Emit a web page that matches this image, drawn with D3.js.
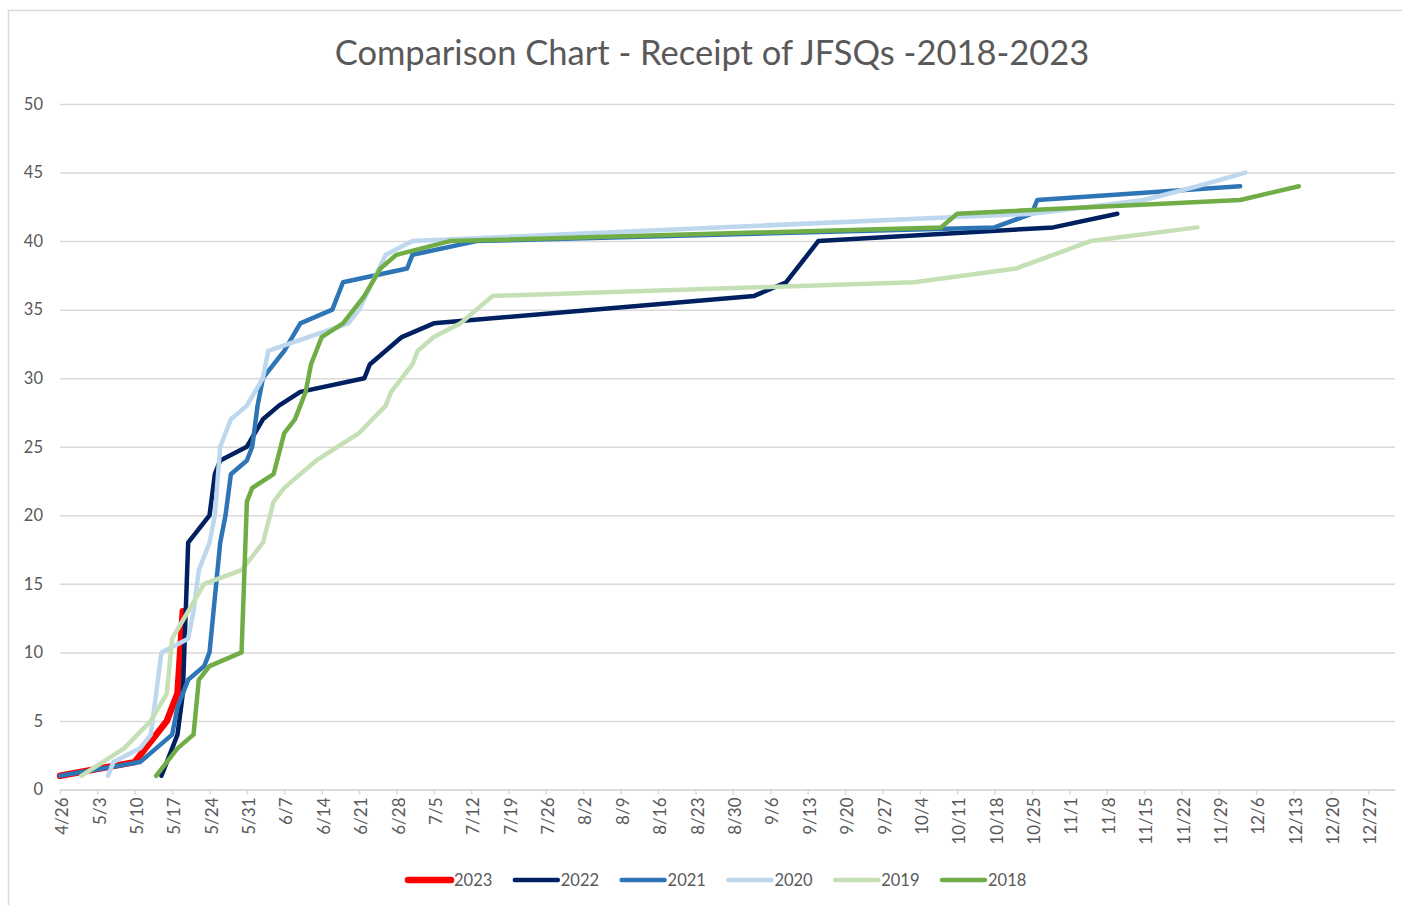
<!DOCTYPE html>
<html>
<head>
<meta charset="utf-8">
<title>Comparison Chart - Receipt of JFSQs -2018-2023</title>
<script src="https://cdn.jsdelivr.net/npm/d3@7"></script>
<style>
  body { margin: 0; background: #fff; }
  text { font-family: Lato, "Liberation Sans", sans-serif; fill: #595959; }
</style>
</head>
<body>
<div id="chart-area"></div>
<script>
/*
*    Comparison chart - cumulative JFSQs received, by season
*/

// data (month/day, cumulative count)
var dates2023 = ["4/26","5/10","5/12","5/14","5/16","5/18","5/19"];
var values2023 = [1, 2, 3, 4, 5, 7, 13];

var dates2022 = ["5/15","5/16","5/17","5/18","5/19","5/20","5/24","5/25","5/26","5/31","6/3","6/6","6/10","6/22","6/23","6/29","7/5","9/3","9/9","9/15","10/29","11/10"];
var values2022 = [1, 2, 3, 4, 7, 18, 20, 23, 24, 25, 27, 28, 29, 30, 31, 33, 34, 36, 37, 40, 41, 42];

var dates2021 = ["4/26","5/11","5/14","5/17","5/18","5/20","5/23","5/24","5/25","5/26","5/27","5/28","5/31","6/1","6/2","6/3","6/5","6/7","6/10","6/16","6/18","6/30","7/1","7/13","10/18","10/25","10/26","12/3"];
var values2021 = [1, 2, 3, 4, 6, 8, 9, 10, 14, 18, 20, 23, 24, 25, 28, 30, 31, 32, 34, 35, 37, 38, 39, 40, 41, 42, 43, 44];

var dates2020 = ["5/5","5/6","5/11","5/13","5/14","5/15","5/20","5/21","5/22","5/24","5/25","5/26","5/28","5/31","6/3","6/4","6/19","6/21","6/26","7/1","10/25","11/15","11/25","12/4"];
var values2020 = [1, 2, 3, 4, 7, 10, 11, 13, 16, 18, 20, 25, 27, 28, 30, 32, 34, 35, 39, 40, 42, 43, 44, 45];

var dates2019 = ["4/30","5/8","5/13","5/16","5/17","5/20","5/23","5/30","6/3","6/5","6/7","6/13","6/17","6/21","6/26","6/27","7/1","7/2","7/5","7/10","7/16","10/3","10/22","10/29","11/5","11/25"];
var values2019 = [1, 3, 5, 7, 11, 13, 15, 16, 18, 21, 22, 24, 25, 26, 28, 29, 31, 32, 33, 34, 36, 37, 38, 39, 40, 41];

var dates2018 = ["5/14","5/18","5/21","5/22","5/24","5/30","5/31","6/1","6/5","6/7","6/9","6/11","6/12","6/14","6/18","6/22","6/25","6/28","7/8","10/8","10/11","12/3","12/14"];
var values2018 = [1, 3, 4, 8, 9, 10, 21, 22, 23, 26, 27, 29, 31, 33, 34, 36, 38, 39, 40, 41, 42, 43, 44];

var seriesNames = ["2023", "2022", "2021", "2020", "2019", "2018"];
var seriesColors = ["#ff0000", "#002060", "#2e75b6", "#bdd7ee", "#c5e0b4", "#70ad47"];

var xTickLabels = ["4/26","5/3","5/10","5/17","5/24","5/31","6/7","6/14","6/21","6/28","7/5","7/12","7/19","7/26","8/2","8/9","8/16","8/23","8/30","9/6","9/13","9/20","9/27","10/4","10/11","10/18","10/25","11/1","11/8","11/15","11/22","11/29","12/6","12/13","12/20","12/27"];
var yTickValues = [0, 5, 10, 15, 20, 25, 30, 35, 40, 45, 50];

// all seasons plotted on one calendar
var parseDay = function(s) { return d3.timeParse("%m/%d/%Y")(s + "/2023"); };

var allDates = [dates2023, dates2022, dates2021, dates2020, dates2019, dates2018];
var allValues = [values2023, values2022, values2021, values2020, values2019, values2018];

var series = seriesNames.map(function(name, i) {
	return {
		name: name,
		color: seriesColors[i],
		points: allDates[i].map(function(d, j) {
			return { date: parseDay(d), value: allValues[i][j] };
		})
	};
});

var width = 1402, height = 905;

var svg = d3.select("#chart-area").append("svg")
	.attr("width", width)
	.attr("height", height);

svg.append("rect")
	.attr("width", width).attr("height", height)
	.attr("fill", "#fff");

// chart border
svg.append("rect")
	.attr("x", 8.5).attr("y", 10.5)
	.attr("width", 1420).attr("height", 920)
	.attr("fill", "none")
	.attr("stroke", "#d9d9d9")
	.attr("stroke-width", 1.5);

var x = d3.scaleTime()
	.domain([parseDay("4/26"), d3.timeParse("%m/%d/%Y")("1/1/2024")])
	.range([60, 1395]);

var y = d3.scaleLinear()
	.domain([0, 50])
	.range([789.5, 104]);

// gridlines + y labels
var yAxis = d3.axisLeft(y)
	.tickValues(yTickValues)
	.tickSize(-(1395 - 60))
	.tickPadding(17);

var gy = svg.append("g")
	.attr("transform", "translate(60,0)")
	.call(yAxis);
gy.select(".domain").remove();
gy.selectAll(".tick line").attr("stroke", "#d9d9d9").attr("stroke-width", 1.5);
gy.selectAll(".tick text")
	.style("font-size", "16.5px")
	.attr("fill", "#595959");

// x axis
var xAxis = d3.axisBottom(x)
	.tickValues(xTickLabels.map(parseDay))
	.tickFormat(d3.timeFormat("%-m/%-d"))
	.tickSize(5)
	.tickSizeOuter(0);

var gx = svg.append("g")
	.attr("transform", "translate(0,789.5)")
	.call(xAxis);
gx.select(".domain").attr("stroke", "#d9d9d9").attr("stroke-width", 1.5);
gx.selectAll(".tick line").attr("stroke", "#d9d9d9").attr("stroke-width", 1.5);
gx.selectAll(".tick text")
	.style("font-size", "17px")
	.attr("fill", "#595959")
	.attr("text-anchor", "end")
	.attr("transform", "rotate(-90)")
	.attr("x", -8)
	.attr("y", 0)
	.attr("dy", "0.45em");

// lines
var line = d3.line()
	.x(function(d) { return x(d.date); })
	.y(function(d) { return y(d.value); });

svg.append("g").selectAll("path")
	.data(series)
	.enter()
	.append("path")
		.attr("d", function(d) { return line(d.points); })
		.attr("fill", "none")
		.attr("stroke", function(d) { return d.color; })
		.attr("stroke-width", function(d) { return d.name == "2023" ? 6.5 : 4.5; })
		.attr("stroke-linejoin", "round")
		.attr("stroke-linecap", "round");

// title
svg.append("text")
	.attr("x", 712)
	.attr("y", 65)
	.attr("text-anchor", "middle")
	.style("font-size", "34.5px")
	.text("Comparison Chart - Receipt of JFSQs -2018-2023");

// legend
var legend = svg.append("g").selectAll("g")
	.data(series)
	.enter()
	.append("g")
		.attr("transform", function(d, i) { return "translate(" + (408 + i * 106.8) + ",880)"; });

legend.append("line")
	.attr("x1", 0).attr("x2", 43)
	.attr("stroke", function(d) { return d.color; })
	.attr("stroke-width", function(d) { return d.name == "2023" ? 6.5 : 4.5; })
	.attr("stroke-linecap", "round");

legend.append("text")
	.attr("x", 46)
	.attr("dy", "0.35em")
	.style("font-size", "16.5px")
	.text(function(d) { return d.name; });
</script>
</body>
</html>
